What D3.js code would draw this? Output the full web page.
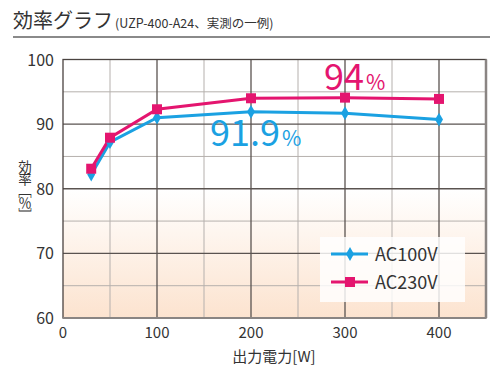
<!DOCTYPE html>
<html><head><meta charset="utf-8">
<script src="https://cdn.jsdelivr.net/npm/d3@7"></script>
<style>body{margin:0;background:#fff}svg{display:block}text{font-family:"Noto Sans CJK JP","Noto Sans",sans-serif}</style>
</head><body>
<svg id="c" width="498" height="380"></svg>
<script>
const xLoad = [30, 50, 100, 200, 300, 400];
const ac100 = [82.2, 87.2, 91.0, 91.9, 91.7, 90.7];
const ac230 = [83.1, 87.9, 92.3, 94.0, 94.1, 93.9];
const xTicks = [0, 100, 200, 300, 400];
const yTicks = [60, 70, 80, 90, 100];
const seriesNames = ["AC100V", "AC230V"];
const colors = ["#1ba1e2", "#e4156f"];

const svg = d3.select("#c");
const m = {l: 63, r: 486, t: 59.5, b: 318};
const x = d3.scaleLinear().domain([0, 450]).range([m.l, m.r]);
const y = d3.scaleLinear().domain([60, 100]).range([m.b, m.t]);

// title
const t = svg.append("text").attr("x", 13).attr("y", 28).attr("fill", "#333");
t.append("tspan").attr("font-size", 20).text("効率グラフ");
t.append("tspan").attr("font-size", 12.5).attr("dx", 2).text("(UZP-400-A24、実測の一例)");
svg.append("line").attr("x1", 13).attr("x2", 490).attr("y1", 37).attr("y2", 37)
  .attr("stroke", "#8a8a8a").attr("stroke-width", 2);

// background gradient
const defs = svg.append("defs");
const g = defs.append("linearGradient").attr("id", "bg").attr("x1", 0).attr("x2", 0).attr("y1", 0).attr("y2", 1);
g.append("stop").attr("offset", "0%").attr("stop-color", "#ffffff");
g.append("stop").attr("offset", "100%").attr("stop-color", "#fce3cf");
svg.append("rect").attr("x", m.l).attr("y", m.t).attr("width", m.r - m.l).attr("height", m.b - m.t).attr("fill", "#fff");
svg.append("rect").attr("x", m.l).attr("y", y(80)).attr("width", m.r - m.l).attr("height", y(60) - y(80)).attr("fill", "url(#bg)");

// grid
const minorX = d3.range(50, 450, 100);
const minorY = d3.range(65, 100, 10);
svg.append("g").selectAll("line").data(minorX).join("line")
  .attr("x1", d => x(d)).attr("x2", d => x(d)).attr("y1", m.t).attr("y2", m.b)
  .attr("stroke", "#b5b0ad").attr("stroke-width", 1);
svg.append("g").selectAll("line").data(minorY).join("line")
  .attr("y1", d => y(d)).attr("y2", d => y(d)).attr("x1", m.l).attr("x2", m.r)
  .attr("stroke", "#b5b0ad").attr("stroke-width", 1);
svg.append("g").selectAll("line").data(xTicks.slice(1)).join("line")
  .attr("x1", d => x(d)).attr("x2", d => x(d)).attr("y1", m.t).attr("y2", m.b)
  .attr("stroke", "#5a5350").attr("stroke-width", 1.3);
svg.append("g").selectAll("line").data(yTicks.slice(1, -1)).join("line")
  .attr("y1", d => y(d)).attr("y2", d => y(d)).attr("x1", m.l).attr("x2", m.r)
  .attr("stroke", "#5a5350").attr("stroke-width", 1.3);
// frame
svg.append("rect").attr("x", m.l).attr("y", m.t).attr("width", m.r - m.l).attr("height", m.b - m.t)
  .attr("fill", "none").attr("stroke", "#4a4340").attr("stroke-width", 1.3);
svg.append("line").attr("x1", m.r).attr("x2", m.r).attr("y1", m.t).attr("y2", m.b).attr("stroke", "#8a8583").attr("stroke-width", 2.5);
svg.append("line").attr("x1", m.l).attr("x2", m.r).attr("y1", m.b).attr("y2", m.b).attr("stroke", "#8a8583").attr("stroke-width", 2);

// axes labels
svg.append("g").selectAll("text").data(yTicks).join("text")
  .attr("x", 54).attr("y", d => y(d) + 6).attr("text-anchor", "end")
  .attr("font-size", 16).attr("fill", "#333").text(d => d);
svg.append("g").selectAll("text").data(xTicks).join("text")
  .attr("x", d => x(d)).attr("y", 338).attr("text-anchor", "middle")
  .attr("font-size", 15).attr("fill", "#333").text(d => d);
svg.append("text").attr("x", 274).attr("y", 362).attr("text-anchor", "middle")
  .attr("font-size", 15).attr("fill", "#333").text("出力電力[W]");
// y label in vertical writing
svg.append("text").attr("x", 25).attr("y", 190).attr("text-anchor", "middle")
  .style("writing-mode", "vertical-rl").attr("font-size", 13.5).attr("letter-spacing", -1.5)
  .attr("fill", "#333").text("効率［％］");

// lines
const line = d3.line().x((d, i) => x(xLoad[i])).y(d => y(d));
[ac100, ac230].forEach((s, k) => {
  svg.append("path").datum(s).attr("d", line).attr("fill", "none")
    .attr("stroke", colors[k]).attr("stroke-width", 3);
});
svg.append("g").selectAll("path").data(ac100).join("path")
  .attr("d", d3.symbol(d3.symbolDiamond, 55)())
  .attr("transform", (d, i) => `translate(${x(xLoad[i])},${y(d)})`)
  .attr("fill", colors[0]);
svg.append("g").selectAll("rect").data(ac230).join("rect")
  .attr("x", (d, i) => x(xLoad[i]) - 5).attr("y", d => y(d) - 5)
  .attr("width", 10).attr("height", 10).attr("fill", colors[1]);

// big annotations
const a1 = svg.append("text").attr("x", 324).attr("y", 90).attr("fill", colors[1]);
a1.append("tspan").attr("font-size", 36).text("94");
a1.append("tspan").attr("font-size", 21).attr("dx", 2).text("%");
const a2 = svg.append("text").attr("x", 210).attr("y", 146).attr("fill", colors[0]);
a2.append("tspan").attr("font-size", 36).text("91.9");
a2.append("tspan").attr("font-size", 21).attr("dx", 2).text("%");

// legend
svg.append("rect").attr("x", 320).attr("y", 237).attr("width", 145).attr("height", 65)
  .attr("fill", "#fff").attr("fill-opacity", 0.82);
seriesNames.forEach((n, k) => {
  const yy = 254 + k * 28;
  svg.append("line").attr("x1", 331).attr("x2", 368).attr("y1", yy).attr("y2", yy)
    .attr("stroke", colors[k]).attr("stroke-width", 3);
  if (k === 0) svg.append("path").attr("d", d3.symbol(d3.symbolDiamond, 55)()).attr("transform", `translate(350,${yy})`).attr("fill", colors[k]);
  else svg.append("rect").attr("x", 345).attr("y", yy - 5).attr("width", 10).attr("height", 10).attr("fill", colors[k]);
  svg.append("text").attr("x", 375).attr("y", yy + 7).attr("font-size", 18).attr("fill", "#333").text(n);
});
</script>
</body></html>
